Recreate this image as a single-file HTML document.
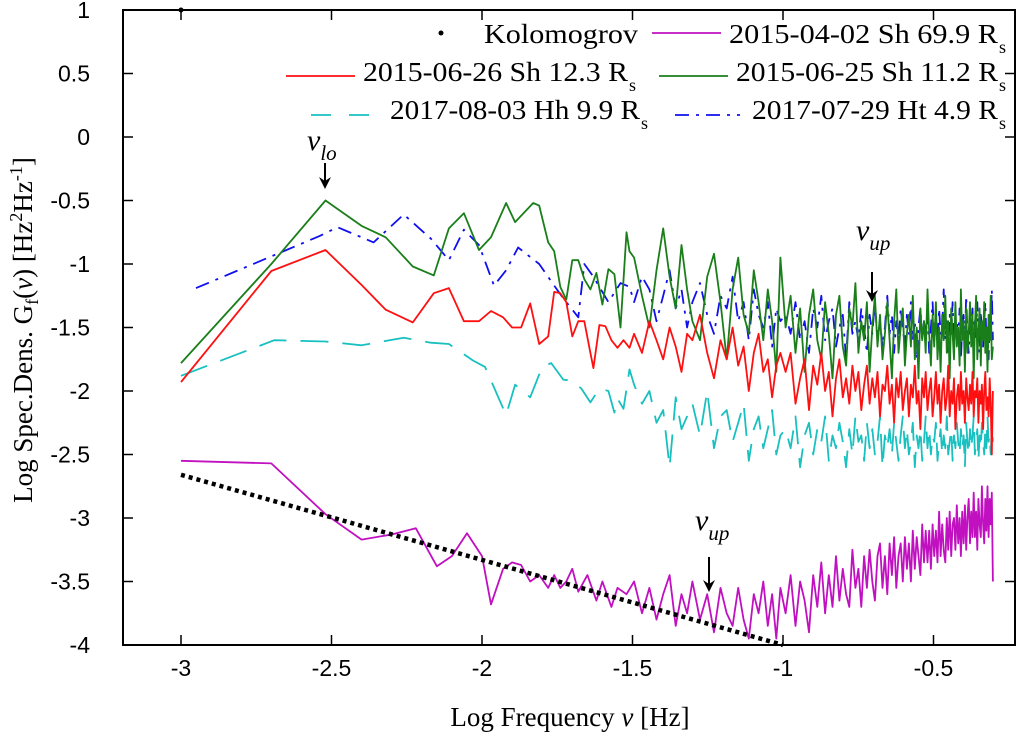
<!DOCTYPE html>
<html><head><meta charset="utf-8"><style>
html,body{margin:0;padding:0;background:#fff;}
svg{display:block;}
text{font-family:"Liberation Serif",serif;}
.tick{font-family:"Liberation Sans",sans-serif;font-size:23px;fill:#000;}
</style></head><body>
<svg id="chart" width="1020" height="732" viewBox="0 0 1020 732" xmlns="http://www.w3.org/2000/svg">
<g id="frame"></g>
<g id="series"></g>
<g id="axes"></g>
<g id="legend"></g>
<g id="annot"></g>
</svg>
<script>
const xTicks = [-3, -2.5, -2, -1.5, -1, -0.5];
const yTicks = [1, 0.5, 0, -0.5, -1, -1.5, -2, -2.5, -3, -3.5, -4];
const xTickLabels = ["-3", "-2.5", "-2", "-1.5", "-1", "-0.5"];
const yTickLabels = ["1", "0.5", "0", "-0.5", "-1", "-1.5", "-2", "-2.5", "-3", "-3.5", "-4"];

const kolX = [-3, -1];
const kolY = [-2.66, -4.0];

const freqHiMHz = [32,34,36,38,40,42,44,46,48,50,
53,56,59,62,65,68,71,74,77,80,83,86,89,92,95,98,
102,106,110,114,118,122,126,130,134,138,142,146,150,154,158,162,166,170,174,178,182,186,190,194,198,202,206,210,214,218,222,226,230,234,238,242,246,250,254,258,262,266,270,274,278,282,286,290,294,298,302,306,310,314,318,322,326,330,334,338,342,346,350,354,358,362,366,370,374,378,382,386,390,394,398,402,406,410,414,418,422,426,430,434,438,442,446,450,454,458,462,466,470,474,478,482,486,490,494,498];

const redLoX = [-3,-2.7,-2.52,-2.40,-2.32,-2.23,-2.16,-2.11,-2.06,-2.01,-1.97,-1.93,-1.90,-1.87,-1.84,-1.81,-1.78,-1.76,-1.74,-1.72,-1.70,-1.68,-1.66,-1.64,-1.63,-1.61,-1.59,-1.57,-1.55,-1.53,-1.51];
const redLoY = [-1.93,-1.055,-0.89,-1.165,-1.36,-1.46,-1.23,-1.19,-1.45,-1.45,-1.37,-1.42,-1.50,-1.50,-1.31,-1.63,-1.57,-1.22,-1.23,-1.3,-1.57,-1.45,-1.45,-1.7,-1.82,-1.48,-1.49,-1.6,-1.66,-1.6,-1.66];
const redHiY = [-1.55,-1.7,-1.45,-1.6,-1.75,-1.5,-1.65,-1.85,-1.55,-1.6,
-1.4,-1.7,-1.9,-1.6,-1.75,-1.5,-1.8,-1.65,-2.0,-1.7,-1.55,-1.85,-1.75,-2.05,-1.8,-1.7,
-1.85,-1.7,-2.1,-1.9,-1.75,-2.15,-1.8,-1.95,-1.7,-2.0,
-1.85,-2.2,-1.9,-1.75,-2.05,-1.9,-2.1,-1.8,-2.0,-1.85,
-2.15,-1.95,-1.8,-2.1,-1.9,-2.05,-1.85,-2.2,-1.95,-2.0,
-1.8,-2.1,-1.95,-2.25,-1.9,-2.05,-1.85,-2.15,-2.0,-1.9,
-2.2,-1.95,-2.05,-1.8,-2.1,-2.0,-2.3,-1.9,-2.05,-1.85,
-2.15,-2.0,-1.9,-2.2,-2.05,-1.85,-2.1,-1.95,-2.25,-2.0,
-1.9,-2.15,-2.05,-1.8,-2.2,-2.0,-2.1,-1.9,-2.3,-2.05,
-1.95,-2.15,-1.85,-2.1,-2.0,-2.25,-1.9,-2.05,-2.15,-1.95,
-2.1,-1.85,-2.2,-2.0,-2.05,-1.9,-2.25,-2.0,-2.1,-1.95,
-2.3,-2.0,-1.85,-2.15,-2.05,-2.2,-1.9,-2.1,-2.5,-2.0];

const greenLoX = [-3,-2.7,-2.52,-2.4,-2.32,-2.23,-2.16,-2.11,-2.06,-2.01,-1.97,-1.92,-1.89,-1.83,-1.81,-1.78,-1.76,-1.74,-1.72,-1.70,-1.68,-1.66,-1.64,-1.62,-1.60,-1.58,-1.56,-1.54,-1.52,-1.51];
const greenLoY = [-1.78,-1.0,-0.5,-0.70,-0.79,-1.02,-1.09,-0.72,-0.60,-0.89,-0.79,-0.52,-0.67,-0.52,-0.54,-0.83,-0.9,-1.18,-1.28,-0.97,-0.97,-1.12,-1.2,-1.07,-1.32,-1.04,-1.08,-1.5,-0.75,-0.9];
const greenHiY = [-0.95,-1.25,-1.5,-1.05,-0.72,-1.1,-1.35,-0.85,-1.2,-1.45,
-1.6,-1.1,-0.92,-1.3,-1.75,-1.2,-0.95,-1.4,-1.55,-1.05,-1.3,-1.6,-1.2,-1.45,-1.85,-0.95,
-1.5,-1.25,-1.7,-1.35,-1.85,-1.4,-1.2,-1.6,-1.75,-1.3,
-1.55,-1.9,-1.4,-1.25,-1.65,-1.8,-1.35,-1.5,-1.15,-1.7,
-1.45,-1.6,-1.3,-1.85,-1.5,-1.25,-1.65,-1.4,-1.75,-1.55,
-1.3,-1.6,-1.9,-1.45,-1.2,-1.7,-1.5,-1.35,-1.8,-1.55,
-1.4,-1.65,-1.25,-1.75,-1.5,-1.9,-1.35,-1.6,-1.45,-1.7,
-1.2,-1.55,-1.8,-1.4,-1.65,-1.3,-1.75,-1.5,-1.85,-1.4,
-1.6,-1.25,-1.7,-1.45,-1.9,-1.35,-1.55,-1.75,-1.3,-1.65,
-1.5,-1.8,-1.2,-1.6,-1.45,-1.85,-1.35,-1.7,-1.55,-1.3,
-1.65,-1.4,-1.9,-1.5,-1.25,-1.75,-1.55,-1.35,-1.8,-1.45,
-1.6,-1.3,-1.7,-1.5,-1.85,-1.4,-1.6,-1.25,-1.75,-1.65];

const blueLoX = [-2.95,-2.54,-2.48,-2.36,-2.26,-2.17,-2.11,-2.06,-2.01,-1.96,-1.92,-1.88,-1.81,-1.76,-1.73,-1.68,-1.66,-1.63,-1.58,-1.54,-1.51];
const blueLoY = [-1.19,-0.78,-0.71,-0.83,-0.61,-0.80,-0.97,-0.73,-0.85,-1.17,-1.05,-0.87,-1.0,-1.17,-1.27,-1.42,-1.0,-1.1,-1.3,-1.15,-1.18];
const blueHiY = [-1.3,-1.1,-1.2,-1.45,-1.25,-1.05,-1.35,-1.2,-1.5,-1.3,
-1.15,-1.4,-1.55,-1.25,-1.35,-1.1,-1.45,-1.3,-1.6,-1.2,-1.4,-1.5,-1.3,-1.65,-1.35,-1.45,
-1.4,-1.55,-1.3,-1.6,-1.45,-1.7,-1.35,-1.5,-1.25,-1.6,
-1.45,-1.35,-1.65,-1.5,-1.4,-1.75,-1.3,-1.55,-1.45,-1.6,
-1.35,-1.5,-1.7,-1.4,-1.55,-1.3,-1.6,-1.45,-1.65,-1.5,
-1.25,-1.55,-1.4,-1.7,-1.45,-1.6,-1.35,-1.5,-1.65,-1.4,
-1.55,-1.3,-1.6,-1.45,-1.75,-1.5,-1.35,-1.6,-1.45,-1.55,
-1.4,-1.7,-1.5,-1.3,-1.6,-1.45,-1.65,-1.35,-1.55,-1.5,
-1.2,-1.6,-1.45,-1.7,-1.4,-1.55,-1.3,-1.65,-1.5,-1.45,
-1.6,-1.35,-1.75,-1.5,-1.4,-1.6,-1.25,-1.55,-1.7,-1.45,
-1.5,-1.35,-1.65,-1.45,-1.6,-1.3,-1.55,-1.7,-1.4,-1.5,
-1.65,-1.45,-1.3,-1.6,-1.5,-1.75,-1.4,-1.55,-1.2,-1.6];

const cyanLoX = [-3.0,-2.69,-2.52,-2.40,-2.26,-2.17,-2.11,-2.03,-1.99,-1.92,-1.89,-1.84,-1.80,-1.77,-1.73,-1.70,-1.67,-1.64,-1.61,-1.58,-1.56,-1.55,-1.53,-1.51];
const cyanLoY = [-1.88,-1.6,-1.61,-1.64,-1.58,-1.62,-1.63,-1.76,-1.81,-2.19,-1.95,-2.05,-1.81,-1.78,-1.91,-1.92,-1.98,-2.09,-1.98,-2.0,-2.17,-2.06,-2.14,-1.83];
const cyanHiY = [-1.95,-2.1,-2.0,-2.25,-2.15,-2.6,-2.05,-2.3,-2.2,-2.1,
-2.35,-2.0,-2.45,-2.2,-2.15,-2.4,-2.25,-2.1,-2.55,-2.3,-2.2,-2.45,-2.3,-2.15,-2.5,-2.35,
-2.3,-2.45,-2.2,-2.6,-2.35,-2.25,-2.5,-2.3,-2.4,-2.2,
-2.55,-2.35,-2.45,-2.25,-2.4,-2.6,-2.3,-2.5,-2.2,-2.4,
-2.35,-2.55,-2.25,-2.45,-2.3,-2.5,-2.4,-2.2,-2.6,-2.35,
-2.45,-2.3,-2.5,-2.25,-2.4,-2.55,-2.35,-2.2,-2.45,-2.3,
-2.5,-2.4,-2.25,-2.6,-2.35,-2.45,-2.3,-2.55,-2.4,-2.2,
-2.45,-2.3,-2.5,-2.35,-2.4,-2.25,-2.55,-2.4,-2.3,-2.5,
-2.35,-2.45,-2.2,-2.5,-2.4,-2.3,-2.55,-2.35,-2.45,-2.25,
-2.4,-2.5,-2.3,-2.45,-2.35,-2.6,-2.25,-2.4,-2.5,-2.3,
-2.45,-2.35,-2.2,-2.5,-2.4,-2.3,-2.55,-2.35,-2.45,-2.25,
-2.4,-2.5,-2.3,-2.45,-2.2,-2.4,-2.35,-2.5,-2.3,-2.4];

const magLoX = [-3,-2.7,-2.52,-2.4,-2.3,-2.22,-2.15,-2.1,-2.05,-2.0,-1.97,-1.93,-1.9,-1.87,-1.84,-1.81,-1.78,-1.76,-1.74,-1.72,-1.7,-1.68,-1.65,-1.62,-1.6,-1.57,-1.55,-1.52];
const magLoY = [-2.55,-2.57,-2.97,-3.17,-3.13,-3.08,-3.38,-3.3,-3.12,-3.3,-3.68,-3.4,-3.35,-3.37,-3.5,-3.45,-3.55,-3.45,-3.55,-3.5,-3.4,-3.58,-3.45,-3.65,-3.5,-3.7,-3.55,-3.6];
const magHiY = [-3.5,-3.75,-3.55,-3.8,-3.6,-3.45,-3.85,-3.6,-3.75,-3.5,
-3.8,-3.6,-3.9,-3.55,-3.75,-3.85,-3.55,-3.8,-3.95,-3.6,-3.75,-3.5,-3.85,-3.6,-3.95,-3.55,
-3.75,-3.45,-3.85,-3.5,-3.65,-3.9,-3.45,-3.7,-3.35,-3.75,
-3.45,-3.7,-3.3,-3.65,-3.4,-3.6,-3.7,-3.25,-3.55,-3.4,
-3.7,-3.3,-3.55,-3.25,-3.5,-3.65,-3.3,-3.2,-3.55,-3.3,
-3.6,-3.2,-3.45,-3.15,-3.55,-3.3,-3.2,-3.5,-3.15,-3.4,
-3.2,-3.5,-3.1,-3.4,-3.15,-3.3,-3.45,-3.05,-3.35,-3.1,
-3.35,-3.1,-3.4,-3.05,-3.3,-3.1,-3.35,-2.95,-3.3,-3.05,
-3.25,-3.35,-3.0,-3.25,-2.95,-3.3,-3.05,-3.0,-3.25,-2.9,
-3.2,-3.0,-3.3,-2.95,-3.2,-2.9,-3.25,-3.0,-2.85,-3.2,
-2.95,-3.15,-2.8,-3.15,-2.95,-3.25,-2.85,-3.05,-3.15,-2.75,
-3.05,-3.2,-2.85,-3.1,-2.75,-3.15,-2.85,-3.05,-2.8,-3.5];

const NS = "http://www.w3.org/2000/svg";
const L = 123, R = 1015, T = 10, B = 645;
function X(v){ return 181 + (v + 3) * 301; }
function Y(v){ return 10 + (1 - v) * 127; }
function mk(tag, attrs, parent){
  const e = document.createElementNS(NS, tag);
  for (const k in attrs) e.setAttribute(k, attrs[k]);
  parent.appendChild(e);
  return e;
}
const frame = document.getElementById('frame');
const axes = document.getElementById('axes');
const series = document.getElementById('series');
const legend = document.getElementById('legend');
const annot = document.getElementById('annot');

const box = mk('rect', {x:L, y:T, width:R-L, height:B-T, fill:'none', stroke:'#000', 'stroke-width':2}, frame);



xTicks.forEach((t, i) => {
  const px = X(t);
  mk('line', {x1:px, y1:B, x2:px, y2:B-10, stroke:'#000', 'stroke-width':1.5}, axes);
  mk('line', {x1:px, y1:T, x2:px, y2:T+10, stroke:'#000', 'stroke-width':1.5}, axes);
  const tx = mk('text', {x:px, y:B+31, 'text-anchor':'middle', class:'tick'}, axes);
  tx.textContent = xTickLabels[i];
  
  
});
yTicks.forEach((t, i) => {
  const py = Y(t);
  mk('line', {x1:L, y1:py, x2:L+10, y2:py, stroke:'#000', 'stroke-width':1.5}, axes);
  mk('line', {x1:R, y1:py, x2:R-10, y2:py, stroke:'#000', 'stroke-width':1.5}, axes);
  const tx = mk('text', {x:L-33, y:py+8, 'text-anchor':'end', class:'tick'}, axes);
  tx.textContent = yTickLabels[i];
  
  
});

const xt = mk('text', {x:570, y:726, 'text-anchor':'middle', 'font-size':27}, axes);
xt.innerHTML = 'Log Frequency <tspan font-style="italic">ν</tspan>  [Hz]';


const yt = mk('text', {x:0, y:0, 'text-anchor':'middle', 'font-size':27, transform:'translate(32,330) rotate(-90)'}, axes);
yt.innerHTML = 'Log Spec.Dens. G<tspan font-size="18" dy="6">f</tspan><tspan dy="-6">(</tspan><tspan font-style="italic">ν</tspan>)  [Hz<tspan font-size="18" dy="-10">2</tspan><tspan dy="10">Hz</tspan><tspan font-size="18" dy="-10">-1</tspan><tspan dy="10">]</tspan>';



function pathFrom(xs, ys, hiY){
  const pts = [];
  const n = Math.min(xs.length, ys.length);
  for (let i = 0; i < n; i++) pts.push([X(xs[i]), Y(ys[i])]);
  if (hiY){
    const m = Math.min(freqHiMHz.length, hiY.length);
    for (let i = 0; i < m; i++) pts.push([X(Math.log10(freqHiMHz[i] / 1000)), Y(hiY[i])]);
  }
  return 'M' + pts.map(p => p[0].toFixed(1) + ',' + p[1].toFixed(1)).join('L');
}
function drawSeries(name, xs, ys, hiY, color, dash){
  const p = mk('path', {d:pathFrom(xs, ys, hiY), fill:'none', stroke:color, 'stroke-width':1.8, 'stroke-linejoin':'round'}, series);
  if (dash) p.setAttribute('stroke-dasharray', dash);
  
  
}
drawSeries('series-2017-08-03-hh', cyanLoX, cyanLoY, cyanHiY, '#18c0c0', '28,14');
drawSeries('series-2017-07-29-ht', blueLoX, blueLoY, blueHiY, '#1010ee', '14,7,3,7');
drawSeries('series-2015-06-25-sh', greenLoX, greenLoY, greenHiY, '#1a7f1a', null);
drawSeries('series-2015-06-26-sh', redLoX, redLoY, redHiY, '#ff1010', null);
drawSeries('series-2015-04-02-sh', magLoX, magLoY, magHiY, '#c010c0', null);
const kol = mk('path', {d:pathFrom(kolX, kolY, null), fill:'none', stroke:'#000', 'stroke-width':4.5, 'stroke-dasharray':'4,4'}, series);


const kdot = mk('circle', {cx:X(-3), cy:Y(1), r:2.5, fill:'#000'}, series);



function legendEntry(name, lx1, lx2, ly, color, dash, txt, tx1, tx2, base){
  const g = mk('g', {}, legend);
  
  
  if (color === 'dot'){
    mk('circle', {cx:lx1, cy:ly, r:2.5, fill:'#000'}, g);
  } else {
    const ln = mk('line', {x1:lx1, y1:ly, x2:lx2, y2:ly, stroke:color, 'stroke-width':1.8}, g);
    if (dash) ln.setAttribute('stroke-dasharray', dash);
  }
  const t = mk('text', {x:tx1, y:base, 'font-size':27, textLength:tx2-tx1, lengthAdjust:'spacingAndGlyphs'}, g);
  t.textContent = txt;
  if (txt !== 'Kolomogrov'){
    const s = mk('text', {x:tx2+1, y:base+10, 'font-size':18}, g);
    s.textContent = 's';
  }
}
legendEntry('legend-kolmogorov', 441, 441, 33, 'dot', null, 'Kolomogrov', 484, 638, 43);
legendEntry('legend-2015-04-02', 652, 721, 33, '#c010c0', null, '2015-04-02 Sh 69.9 R', 729, 998, 43);
legendEntry('legend-2015-06-26', 286, 355, 76, '#ff1010', null, '2015-06-26 Sh 12.3 R', 363, 628, 81);
legendEntry('legend-2015-06-25', 659, 728, 76, '#1a7f1a', null, '2015-06-25 Sh 11.2 R', 736, 998, 81);
legendEntry('legend-2017-08-03', 311, 371, 115, '#18c0c0', '20,18', '2017-08-03 Hh 9.9 R', 390, 640, 119);
legendEntry('legend-2017-07-29', 675, 740, 115, '#1010ee', '14,7,3,7', '2017-07-29 Ht 4.9 R', 752, 998, 119);

function marker(name, sub, tx, ty, ax, ay1, ay2){
  const g = mk('g', {}, annot);
  
  
  const t = mk('text', {x:tx, y:ty, 'font-size':30, 'font-style':'italic'}, g);
  t.innerHTML = 'ν<tspan font-size="21" dy="10">' + sub + '</tspan>';
  mk('line', {x1:ax, y1:ay1, x2:ax, y2:ay2-6, stroke:'#000', 'stroke-width':2}, g);
  mk('path', {d:'M' + (ax-6) + ',' + (ay2-12) + 'L' + ax + ',' + ay2 + 'L' + (ax+6) + ',' + (ay2-12) + 'L' + ax + ',' + (ay2-8) + 'Z', fill:'#000'}, g);
}
marker('nu-lo-marker', 'lo', 307, 150, 325, 163, 189);
marker('nu-up-marker-high', 'up', 856, 240, 872, 272, 302);
marker('nu-up-marker-low', 'up', 695, 530, 709, 557, 592);
</script>
</body></html>
